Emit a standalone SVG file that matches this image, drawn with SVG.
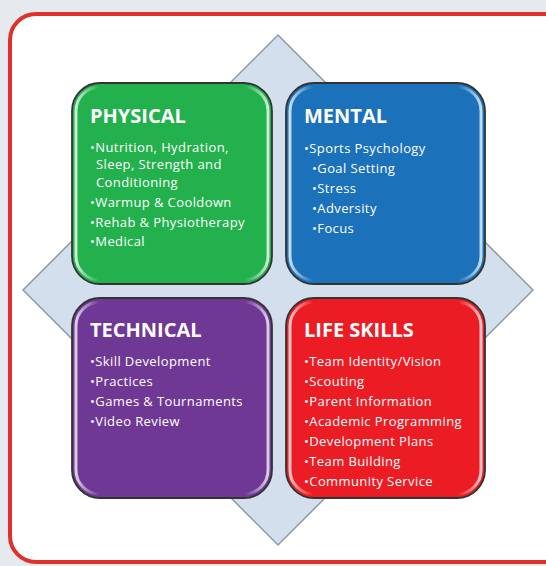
<svg xmlns="http://www.w3.org/2000/svg" width="546" height="566" viewBox="0 0 546 566">
<defs>
<style>
.box{stroke:#333;stroke-width:1.8}
.gloss{fill:none;stroke:url(#gl);stroke-width:3}
.title{font-family:"Open Sans","Liberation Sans",sans-serif;font-weight:bold;font-size:20px;fill:#fff}
.item{font-family:"Open Sans","Liberation Sans",sans-serif;font-size:13px;letter-spacing:0.4px;fill:#fff}
</style>
<linearGradient id="gl" x1="0" y1="0" x2="1" y2="0">
<stop offset="0" stop-color="#fff" stop-opacity="0.75"/>
<stop offset="0.12" stop-color="#fff" stop-opacity="0"/>
<stop offset="0.88" stop-color="#fff" stop-opacity="0"/>
<stop offset="1" stop-color="#fff" stop-opacity="0.75"/>
</linearGradient>
</defs>
<rect x="0" y="0" width="546" height="566" fill="#e6eaee"/>
<rect x="10" y="14" width="560" height="548" rx="26" fill="#fff" stroke="#e0302a" stroke-width="4"/>
<polygon points="278,35 533,290 278,545 23,290" fill="#d3dfec" stroke="#8c9bab" stroke-width="1.5"/>
<g id="physical">
<rect class="box" x="72" y="83" width="200" height="201" rx="28" fill="#22b14c"/>
<rect class="gloss" x="76" y="87" width="192" height="193" rx="24"/>
<text class="title" x="90" y="123">PHYSICAL</text>
<text class="item" x="90" y="152">•Nutrition, Hydration,</text>
<text class="item" x="96" y="169">Sleep, Strength and</text>
<text class="item" x="96" y="187">Conditioning</text>
<text class="item" x="90" y="207">•Warmup &amp; Cooldown</text>
<text class="item" x="90" y="227">•Rehab &amp; Physiotherapy</text>
<text class="item" x="90" y="246">•Medical</text>
</g>
<g id="mental">
<rect class="box" x="286" y="83" width="199" height="201" rx="28" fill="#1b72bb"/>
<rect class="gloss" x="290" y="87" width="191" height="193" rx="24"/>
<text class="title" x="304" y="123">MENTAL</text>
<text class="item" x="304" y="153">•Sports Psychology</text>
<text class="item" x="312" y="173">•Goal Setting</text>
<text class="item" x="312" y="193">•Stress</text>
<text class="item" x="312" y="213">•Adversity</text>
<text class="item" x="312" y="233">•Focus</text>
</g>
<g id="technical">
<rect class="box" x="72" y="298" width="200" height="200" rx="28" fill="#6f3895"/>
<rect class="gloss" x="76" y="302" width="192" height="192" rx="24"/>
<text class="title" x="90" y="337">TECHNICAL</text>
<text class="item" x="90" y="366">•Skill Development</text>
<text class="item" x="90" y="386">•Practices</text>
<text class="item" x="90" y="406">•Games &amp; Tournaments</text>
<text class="item" x="90" y="426">•Video Review</text>
</g>
<g id="lifeskills">
<rect class="box" x="286" y="298" width="199" height="200" rx="28" fill="#ec1c24"/>
<rect class="gloss" x="290" y="302" width="191" height="192" rx="24"/>
<text class="title" x="304" y="337">LIFE SKILLS</text>
<text class="item" x="304" y="366">•Team Identity/Vision</text>
<text class="item" x="304" y="386">•Scouting</text>
<text class="item" x="304" y="406">•Parent Information</text>
<text class="item" x="304" y="426">•Academic Programming</text>
<text class="item" x="304" y="446">•Development Plans</text>
<text class="item" x="304" y="466">•Team Building</text>
<text class="item" x="304" y="486">•Community Service</text>
</g>
<g id="connectors"></g>
</svg>
